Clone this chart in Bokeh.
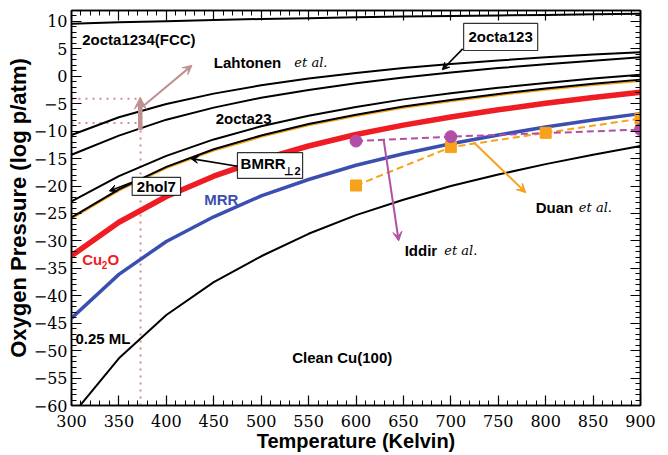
from bokeh.plotting import figure
from bokeh.models import (Range1d, LinearAxis, SingleIntervalTicker, Label, Arrow, VeeHead,
                          BoxAnnotation, CustomJSTickFormatter)
from bokeh.embed import file_html
from bokeh.resources import INLINE

# ---------------- data ----------------
temps = [300, 350, 400, 450, 500, 550, 600, 650, 700, 750, 800, 850, 900]
fcc_2octa1234 = [9.6, 9.85, 10.05, 10.25, 10.45, 10.6, 10.75, 10.9, 11.0, 11.1, 11.2, 11.3, 11.4]
lahtonen_upper = [-10.7, -7.46, -5.04, -3.15, -1.64, -0.40, 0.62, 1.50, 2.24, 2.89, 3.46, 3.96, 4.4]
octa123_lower = [-14.3, -10.8, -7.9, -5.7, -3.9, -2.5, -1.25, -0.2, 0.7, 1.5, 2.2, 2.85, 3.5]
octa23 = [-22.8, -18.2, -14.5, -11.5, -9.1, -7.2, -5.6, -4.2, -3.1, -2.1, -1.2, -0.4, 0.3]
bmrr_hol7 = [-25.7, -20.6, -16.5, -13.3, -10.8, -8.7, -7.0, -5.5, -4.3, -3.2, -2.2, -1.35, -0.6]
bmrr_orange = [-25.95, -20.85, -16.75, -13.55, -11.05, -8.95, -7.25, -5.75, -4.55, -3.45, -2.45, -1.6, -0.85]
cu2o = [-32.7, -26.6, -21.9, -18.2, -15.2, -12.7, -10.6, -8.9, -7.4, -6.1, -4.9, -3.85, -2.9]
mrr = [-44.1, -36.1, -30.1, -25.6, -21.8, -18.8, -16.2, -14.1, -12.3, -10.7, -9.25, -7.95, -6.8]
clean_025ml = [-61.9, -51.4, -43.5, -37.5, -32.8, -28.7, -25.3, -22.5, -20.0, -17.9, -16.0, -14.3, -12.7]

iddir_T = [600, 700, 900]
iddir_p = [-11.8, -11.0, -9.7]
duan_T = [600, 700, 800, 900]
duan_p = [-19.9, -12.9, -10.3, -7.7]

# reference marks at ~373 K
ref_T = 372.8
ref_levels = [-4.1, -8.5]

SERIF = "DejaVu Serif"
SANS = "Liberation Sans"

# ---------------- figure ----------------
p = figure(width=668, height=455, x_range=Range1d(300, 900), y_range=Range1d(-60, 12),
           output_backend="svg", toolbar_location=None,
           min_border_left=71, min_border_right=28, min_border_top=10, min_border_bottom=50,
           x_axis_label="Temperature (Kelvin)", y_axis_label="Oxygen Pressure (log p/atm)")
p.xgrid.visible = False
p.ygrid.visible = False
p.outline_line_color = "black"
p.outline_line_width = 1.5
p.background_fill_color = "white"
p.border_fill_color = "white"

def style_axis(ax):
    ax.major_tick_in = 10
    ax.major_tick_out = 0
    ax.minor_tick_in = 5
    ax.minor_tick_out = 0
    ax.axis_line_color = "black"
    ax.axis_line_width = 1.5
    ax.major_tick_line_color = "black"
    ax.minor_tick_line_color = "black"
    ax.major_tick_line_width = 1.2
    ax.minor_tick_line_width = 1.0

p.xaxis.ticker = SingleIntervalTicker(interval=50, num_minor_ticks=5)
p.yaxis.ticker = SingleIntervalTicker(interval=5, num_minor_ticks=5)
for ax in [p.xaxis[0], p.yaxis[0]]:
    style_axis(ax)
    ax.major_label_text_font = SERIF
    ax.major_label_text_font_size = "16px"
    ax.major_label_text_color = "black"
    ax.axis_label_text_font = SANS
    ax.axis_label_text_font_style = "bold"
    ax.axis_label_text_color = "black"
p.xaxis.major_label_standoff = 9
p.xaxis.axis_label_standoff = 0
p.xaxis.axis_label_text_font_size = "20px"
p.yaxis.major_label_standoff = 4
p.yaxis.axis_label_standoff = 0
p.yaxis.axis_label_text_font_size = "22px"

blank = CustomJSTickFormatter(code="return ''")
top_ax = LinearAxis(ticker=SingleIntervalTicker(interval=50, num_minor_ticks=5), formatter=blank,
                    major_label_standoff=0, major_label_text_font_size="1px")
right_ax = LinearAxis(ticker=SingleIntervalTicker(interval=5, num_minor_ticks=5), formatter=blank,
                      major_label_standoff=0, major_label_text_font_size="1px")
style_axis(top_ax)
style_axis(right_ax)
p.add_layout(top_ax, "above")
p.add_layout(right_ax, "right")

# ---------------- reference dotted lines ----------------
dot_col = "#d98a8f"
p.segment(x0=[ref_T], y0=[-60], x1=[ref_T], y1=[ref_levels[0]], line_color=dot_col,
          line_width=2, line_dash="2 5")
p.segment(x0=[300, 300], y0=ref_levels, x1=[ref_T, ref_T], y1=ref_levels, line_color=dot_col,
          line_width=2, line_dash="2 5")

# ---------------- curves ----------------
p.line(temps, fcc_2octa1234, line_color="black", line_width=2)
p.line(temps, lahtonen_upper, line_color="black", line_width=2)
p.line(temps, octa123_lower, line_color="black", line_width=2)
p.line(temps, octa23, line_color="black", line_width=2)
p.line(temps, bmrr_orange, line_color="#f5a623", line_width=1.8)
p.line(temps, bmrr_hol7, line_color="black", line_width=2)
p.line(temps, clean_025ml, line_color="black", line_width=2)
p.line(temps, mrr, line_color="#3a4fb0", line_width=3.5)
p.line(temps, cu2o, line_color="#ef1c24", line_width=5.5)

# data points
p.line(duan_T, duan_p, line_color="#f7a21b", line_width=2, line_dash="7 4")
p.line(iddir_T, iddir_p, line_color="#b24ea6", line_width=2, line_dash="7 4")
p.scatter(duan_T, duan_p, marker="square", size=11, fill_color="#f7a21b", line_color="#f7a21b")
p.scatter(iddir_T, iddir_p, marker="circle", size=12, fill_color="#b24ea6", line_color="#b24ea6")

# ---------------- arrows ----------------
def arrow(x0, y0, x1, y1, color, width=1.8, size=8):
    p.add_layout(Arrow(end=VeeHead(size=size, fill_color=color, line_color=color),
                       x_start=x0, y_start=y0, x_end=x1, y_end=y1,
                       line_color=color, line_width=width))

brown = "#c09090"
arrow(374.5, -5.6, 427, 2.0, brown, 2, 9)
arrow(372.5, -9.8, 372.5, -3.8, brown, 4.5, 12)
arrow(712.5, 5.0, 691, 1.2, "black", 1.6, 7)
arrow(475, -16.4, 426, -15.0, "black", 1.6, 7)
arrow(364, -19.3, 340, -20.9, "black", 1.6, 7)
arrow(724, -12.0, 779, -21.2, "#f7a21b", 2, 9)
arrow(629, -11.4, 645, -30.0, "#b24ea6", 2, 9)

# ---------------- boxes ----------------
def box(l, r, b, t):
    p.add_layout(BoxAnnotation(left=l, right=r, bottom=b, top=t, fill_color="white",
                               fill_alpha=1, line_color="black", line_width=1.2,
                               line_alpha=0.8))

box(713.5, 791.6, 4.71, 9.64)
box(475, 543.7, -18.6, -13.9)
box(364, 415, -21.7, -18.4)

# ---------------- labels ----------------
def lab(x, y, text, color="black", size="15px", font=SANS, style="bold", align="left"):
    p.add_layout(Label(x=x, y=y, text=text, text_color=color, text_font_size=size,
                       text_font=font, text_font_style=style, text_align=align,
                       text_baseline="middle"))

lab(311.3, 6.7, "2octa1234(FCC)")
lab(450, 2.6, "Lahtonen")
lab(535, 2.6, "et al.", font=SERIF, style="italic", size="13px")
lab(452, -7.7, "2octa23")
lab(440, -22.4, "MRR", color="#3a4fb0")
lab(311.3, -33.4, "Cu", color="#ef1c24")
lab(332.0, -34.4, "2", color="#ef1c24", size="10px")
lab(338.0, -33.4, "O", color="#ef1c24")
lab(304.2, -47.8, "0.25 ML")
lab(532.8, -51.2, "Clean Cu(100)")
lab(651.3, -31.7, "Iddir")
lab(693, -31.7, "et al.", font=SERIF, style="italic", size="13px")
lab(789.5, -23.85, "Duan")
lab(835, -23.85, "et al.", font=SERIF, style="italic", size="13px")
lab(752.5, 7.2, "2octa123", align="center")
lab(478.3, -15.9, "BMRR")
lab(524.5, -17.2, "\u22a52", size="11px")
lab(389.5, -20.05, "2hol7", align="center")

open("out.html", "w").write(file_html(p, INLINE))
